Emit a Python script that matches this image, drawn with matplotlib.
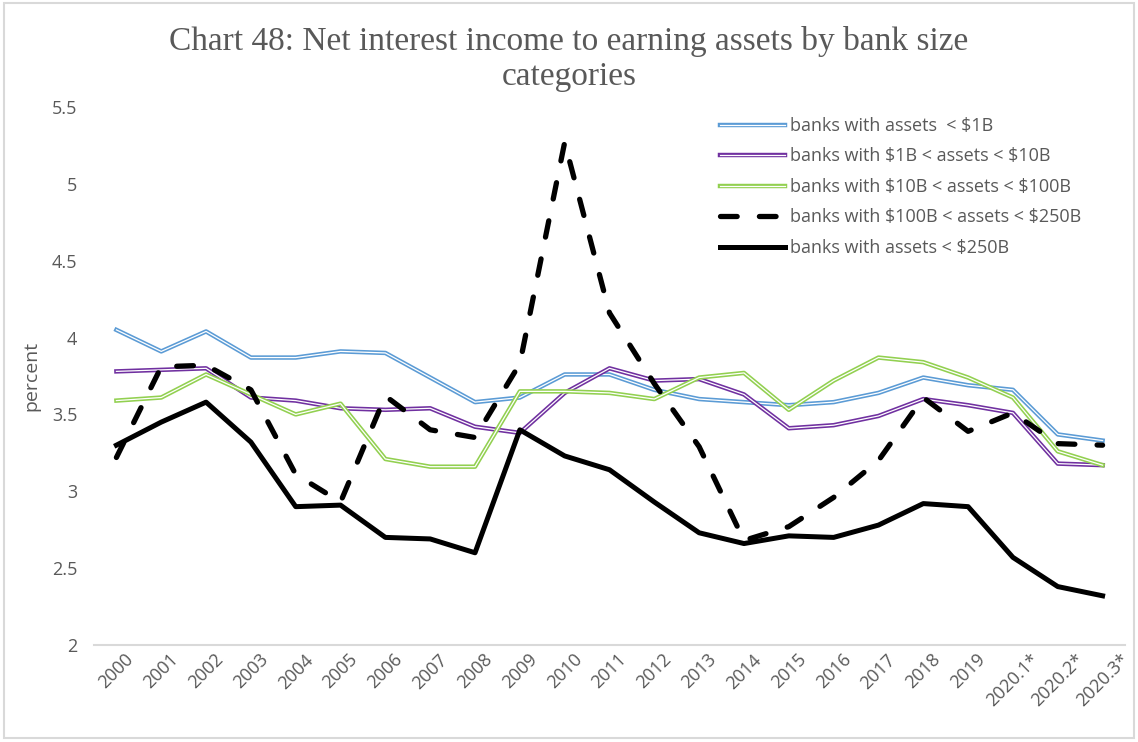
import numpy as np
import matplotlib
matplotlib.use("Agg")
import matplotlib.pyplot as plt
import matplotlib.patheffects as pe
from matplotlib.patches import Rectangle

# categories and series (percent)
years = ['2000', '2001', '2002', '2003', '2004', '2005', '2006', '2007', '2008',
         '2009', '2010', '2011', '2012', '2013', '2014', '2015', '2016', '2017',
         '2018', '2019', '2020.1*', '2020.2*', '2020.3*']

under_1b = [4.05, 3.91, 4.04, 3.87, 3.87, 3.91, 3.90, 3.74, 3.58, 3.61, 3.76, 3.76,
            3.66, 3.60, 3.58, 3.56, 3.58, 3.64, 3.74, 3.69, 3.66, 3.37, 3.33]
b1_10 = [3.78, 3.79, 3.80, 3.61, 3.59, 3.54, 3.53, 3.54, 3.42, 3.38, 3.64, 3.80,
         3.72, 3.73, 3.63, 3.41, 3.43, 3.49, 3.60, 3.56, 3.51, 3.18, 3.17]
b10_100 = [3.59, 3.61, 3.76, 3.63, 3.50, 3.57, 3.21, 3.16, 3.16, 3.65, 3.65, 3.64,
           3.60, 3.74, 3.77, 3.53, 3.72, 3.87, 3.84, 3.74, 3.61, 3.26, 3.17]
b100_250 = [3.22, 3.81, 3.82, 3.66, 3.11, 2.93, 3.62, 3.40, 3.35, 3.83, 5.27, 4.16,
            3.70, 3.29, 2.68, 2.77, 2.96, 3.20, 3.61, 3.39, 3.51, 3.31, 3.30]
over_250b = [3.30, 3.45, 3.58, 3.32, 2.90, 2.91, 2.70, 2.69, 2.60, 3.40, 3.23, 3.14,
             2.93, 2.73, 2.66, 2.71, 2.70, 2.78, 2.92, 2.90, 2.57, 2.38, 2.32]

labels = ['banks with assets  < $1B',
          'banks with $1B < assets < $10B',
          'banks with $10B < assets < $100B',
          'banks with $100B < assets < $250B',
          'banks with assets < $250B']

GRAY = '#595959'
plt.rcParams['lines.scale_dashes'] = False
plt.rcParams['text.parse_math'] = False
plt.rcParams['font.family'] = ['Open Sans', 'DejaVu Sans']

fig = plt.figure(figsize=(11.38, 7.42), dpi=100)
fig.patches.append(Rectangle((4 / 1138, 4 / 742), 1130 / 1138, 735 / 742,
                             transform=fig.transFigure, fill=False,
                             edgecolor='#d9d9d9', linewidth=1.5))
ax = fig.add_axes([94 / 1138, 1 - 645 / 742, 1031 / 1138, 538 / 742])

x = np.arange(len(years))


def double_line(vals, color, label):
    ax.plot(x, vals, color='white', lw=0.9, label=label,
            path_effects=[pe.Stroke(linewidth=3.2, foreground=color), pe.Normal()])


double_line(under_1b, '#5b9bd5', labels[0])
double_line(b1_10, '#7030a0', labels[1])
double_line(b10_100, '#92d050', labels[2])
ax.plot(x, b100_250, color='black', lw=3.8, dashes=(12, 16),
        dash_capstyle='round', label=labels[3])
ax.plot(x, over_250b, color='black', lw=3.6, label=labels[4])

ax.set_xlim(-0.5, len(years) - 0.5)
ax.set_ylim(2, 5.5)
ax.set_yticks([2, 2.5, 3, 3.5, 4, 4.5, 5, 5.5])
ax.set_yticklabels(['2', '2.5', '3', '3.5', '4', '4.5', '5', '5.5'])
ax.set_xticks(x)
ax.set_xticklabels(years, rotation=45, ha='center', va='top')
ax.tick_params(axis='both', length=0, colors=GRAY, labelsize=13)
ax.tick_params(axis='y', pad=12)
ax.tick_params(axis='x', pad=4)
for s in ['top', 'right', 'left']:
    ax.spines[s].set_visible(False)
ax.spines['bottom'].set_color('#d9d9d9')
ax.spines['bottom'].set_linewidth(1.5)

ax.set_ylabel('percent', color=GRAY, fontsize=14, labelpad=8)

fig.suptitle('Chart 48: Net interest income to earning assets by bank size\ncategories',
             family='Liberation Serif', fontsize=24, color=GRAY, y=1 - 26 / 742,
             va='top', linespacing=1.2)

leg = ax.legend(loc='upper left', bbox_to_anchor=(720 / 1138, 1 - 117 / 742),
                bbox_transform=fig.transFigure, frameon=False, fontsize=13,
                handlelength=3.6, handletextpad=0.3, labelspacing=0.69,
                borderpad=0, borderaxespad=0)
for t in leg.get_texts():
    t.set_color(GRAY)

fig.savefig('out.png', dpi=100)
